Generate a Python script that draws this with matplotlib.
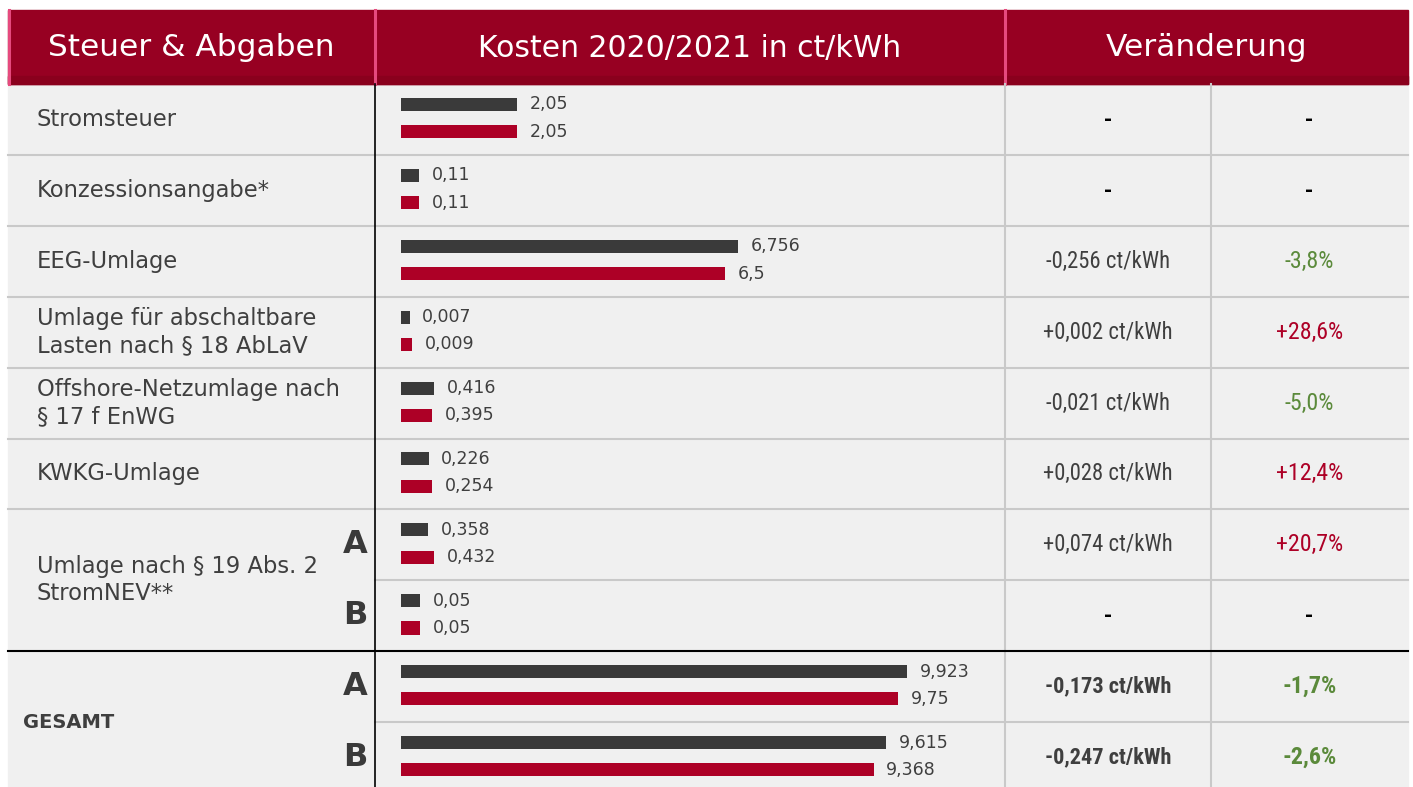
import matplotlib
matplotlib.use("Agg")
import matplotlib.pyplot as plt
from matplotlib import font_manager
from matplotlib.patches import Rectangle

# ---- data ----
categories = ["Stromsteuer", "Konzessionsangabe*", "EEG-Umlage",
              "Umlage für abschaltbare\nLasten nach § 18 AbLaV",
              "Offshore-Netzumlage nach\n§ 17 f EnWG", "KWKG-Umlage",
              "Umlage nach § 19 Abs. 2\nStromNEV**", "GESAMT"]
variants = ["", "", "", "", "", "", "A", "B", "A", "B"]
kosten_2020 = [2.05, 0.11, 6.756, 0.007, 0.416, 0.226, 0.358, 0.05, 9.923, 9.615]
kosten_2021 = [2.05, 0.11, 6.5, 0.009, 0.395, 0.254, 0.432, 0.05, 9.75, 9.368]
aenderung_ct = ["-", "-", "-0,256 ct/kWh", "+0,002 ct/kWh", "-0,021 ct/kWh",
                "+0,028 ct/kWh", "+0,074 ct/kWh", "-", "-0,173 ct/kWh", "-0,247 ct/kWh"]
aenderung_pct = ["-", "-", "-3,8%", "+28,6%", "-5,0%", "+12,4%", "+20,7%", "-", "-1,7%", "-2,6%"]
headers = ["Steuer & Abgaben", "Kosten 2020/2021 in ct/kWh", "Veränderung"]

# ---- layout (pixels) ----
W, H = 1413, 787
left, right = 8, 1408
c1, c2, c3 = 375, 1005, 1211
head_top, head_bot = 10, 84
row_h = 70.9
bar_x0, bar_w = 401, 600
# drawn pixel width of the longest bar in each row (each row has its own scale)
bar_px = [116, 18, 337, 11, 33, 31, 33, 19, 506, 485]

header_red = "#970022"
pink = "#e64a7e"
dark = "#3a3a3a"
red = "#ad0026"
green = "#5b8a3b"
txt = "#3f3f3f"
grid = "#c9c9c9"

names = {f.name for f in font_manager.fontManager.ttflist}
narrow = "Roboto"
for cand in ["Liberation Sans Narrow", "DejaVu Sans Condensed", "Roboto Condensed"]:
    if cand in names:
        narrow = cand
        break
plt.rcParams['font.family'] = ['DejaVu Sans']

fig = plt.figure(figsize=(W / 100, H / 100), dpi=100)
ax = fig.add_axes([0, 0, 1, 1])
ax.set_xlim(0, W)
ax.set_ylim(H, 0)
ax.axis('off')

nrows = len(kosten_2020)
rows_y = [head_bot + i * row_h for i in range(nrows + 1)]

# background
ax.add_patch(Rectangle((left, head_bot), right - left, H - head_bot, color="#f0f0f0", zorder=0))

# header
ax.add_patch(Rectangle((left, head_top), right - left, head_bot - head_top, color=header_red, zorder=1))
ax.add_patch(Rectangle((left, head_bot - 8), right - left, 8, color="#8a001d", zorder=1))
for x in [left + 1, c1, c2]:
    ax.plot([x, x], [head_top, head_bot], color=pink, lw=2.2, zorder=2)
ax.text((left + c1) / 2, 48, headers[0], color="white", fontsize=22.5, ha="center", va="center")
ax.text((c1 + c2) / 2, 48, headers[1], color="white", fontsize=21.5, ha="center", va="center")
ax.text((c2 + right) / 2, 48, headers[2], color="white", fontsize=22.5, ha="center", va="center")

# grid lines
for i in range(1, nrows):
    y = rows_y[i]
    if i == 8:
        continue
    x_start = c1 if i in (7, 9) else left
    ax.plot([x_start, right], [y, y], color=grid, lw=1.5, zorder=2)
ax.plot([c2, c2], [head_bot, H], color=grid, lw=1.5, zorder=2)
ax.plot([c3, c3], [head_bot, H], color=grid, lw=1.5, zorder=2)
ax.plot([left, right], [rows_y[8], rows_y[8]], color="black", lw=1.5, zorder=3)
ax.plot([c1, c1], [head_bot, H], color="black", lw=1.2, zorder=3)

# category labels
for i, cat in enumerate(categories[:6]):
    ax.text(37, (rows_y[i] + rows_y[i + 1]) / 2, cat, color=txt, fontsize=16.3,
            ha="left", va="center", linespacing=1.2)
ax.text(37, 580, categories[6], color=txt, fontsize=16.3, ha="left", va="center", linespacing=1.2)
ax.text(23, 723, categories[7], color=txt, fontsize=14, fontweight="bold", ha="left", va="center")

# A / B labels
for i, v in enumerate(variants):
    if v:
        ax.text(368, (rows_y[i] + rows_y[i + 1]) / 2, v, color=dark, fontsize=23,
                fontweight="bold", ha="right", va="center")

# change columns
for i in range(nrows):
    yc = (rows_y[i] + rows_y[i + 1]) / 2
    bold = "bold" if i >= 8 else "normal"
    ct = aenderung_ct[i]
    pct = aenderung_pct[i]
    if ct == "-":
        ax.text((c2 + c3) / 2, yc, "-", color="black", fontsize=14, fontweight="bold", ha="center", va="center")
    else:
        ax.text((c2 + c3) / 2, yc, ct, color=txt, fontsize=16.3 if i < 8 else 16, fontweight=bold,
                family=[narrow, "DejaVu Sans"], ha="center", va="center")
    if pct == "-":
        ax.text((c3 + right) / 2, yc, "-", color="black", fontsize=14, fontweight="bold", ha="center", va="center")
    else:
        col = green if pct.startswith("-") else red
        ax.text((c3 + right) / 2, yc, pct, color=col, fontsize=17.3, fontweight=bold,
                family=[narrow, "DejaVu Sans"], ha="center", va="center")

# bars, one small axes per row
for i in range(nrows):
    top = rows_y[i]
    bax = fig.add_axes([bar_x0 / W, 1 - (top + row_h) / H, bar_w / W, row_h / H])
    bax.set_facecolor("none")
    bax.axis('off')
    vals = [kosten_2020[i], kosten_2021[i]]
    bax.set_xlim(0, max(vals) * bar_w / bar_px[i])
    bax.set_ylim(1.85, -0.75)
    bax.barh([0, 1], vals, height=0.48, color=[dark, red])
    for y, v in zip([0, 1], vals):
        bax.annotate(str(v).replace(".", ","), (v, y), xytext=(9, 0), textcoords="offset points",
                     color=txt, fontsize=12.5, ha="left", va="center")

fig.savefig("out.png", dpi=100)
